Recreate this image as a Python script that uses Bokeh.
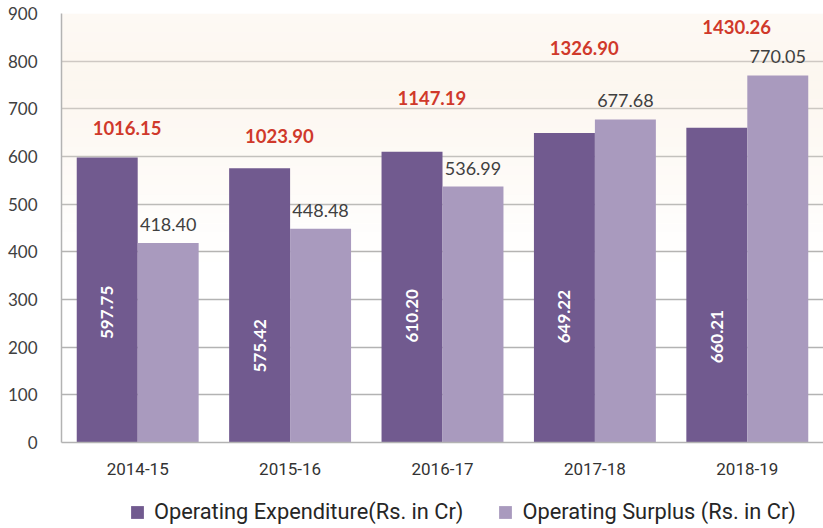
import math
from bokeh.plotting import figure
from bokeh.layouts import column
from bokeh.models import (ColumnDataSource, Range1d, SingleIntervalTicker, Legend,
                          LegendItem, BoxAnnotation)
from bokeh.transform import dodge
from bokeh.core.properties import value
from bokeh.embed import file_html
from bokeh.resources import INLINE

# ---- data ----
years = ["2014-15", "2015-16", "2016-17", "2017-18", "2018-19"]
expenditure = [597.75, 575.42, 610.20, 649.22, 660.21]
surplus = [418.40, 448.48, 536.99, 677.68, 770.05]
totals = [1016.15, 1023.90, 1147.19, 1326.90, 1430.26]
series_names = ["Operating Expenditure(Rs. in Cr)", "Operating Surplus (Rs. in Cr)"]

# label anchor heights (as placed in the original picture)
total_label_y = [659, 644, 722, 827, 871]
inner_label_y = [273, 203, 266, 264, 222]

DARK = "#715a8f"
LIGHT = "#a99abe"
RED = "#d0392b"
GRID = "#b3b3b3"

src = ColumnDataSource(dict(
    year=years, exp=expenditure, sur=surplus,
    exp_txt=["%.2f" % v for v in expenditure],
    sur_txt=["%.2f" % v for v in surplus],
    tot_txt=["%.2f" % v for v in totals],
    tot_y=total_label_y, in_y=inner_label_y,
))

p = figure(x_range=years, y_range=Range1d(0, 900), width=823, height=490,
           output_backend="svg", toolbar_location=None,
           min_border_left=61, min_border_right=0, min_border_top=13,
           min_border_bottom=48)
p.x_range.range_padding = 0
p.outline_line_color = None
p.background_fill_color = "white"
p.border_fill_color = "white"

# soft warm gradient in the upper part of the plot
n = 26
lo, hi = 380, 900
for i in range(n):
    b = lo + (hi - lo) * i / n
    t = lo + (hi - lo) * (i + 1) / n
    m = (b + t) / 2
    if m < 760:
        a = 0.45 * ((m - lo) / (760 - lo)) ** 0.9
    else:
        a = 0.45 - 0.15 * (m - 760) / (hi - 760)
    p.add_layout(BoxAnnotation(bottom=b, top=t, fill_color="#f9ecdc", fill_alpha=a,
                               line_color=None, level="underlay"))

r1 = p.vbar(x=dodge("year", -0.2, range=p.x_range), top="exp", width=0.4,
            source=src, fill_color=DARK, line_color=None)
r2 = p.vbar(x=dodge("year", 0.2, range=p.x_range), top="sur", width=0.4,
            source=src, fill_color=LIGHT, line_color=None)

# surplus labels above light bars
p.text(x=dodge("year", 0.2, range=p.x_range), y="sur", text="sur_txt", source=src,
       text_align="center", text_baseline="bottom", y_offset=-12,
       text_font=value("Lato"), text_font_size="18px", text_color="#404040")

# white rotated labels inside dark bars
p.text(x=dodge("year", -0.2, range=p.x_range), y="in_y", text="exp_txt", source=src,
       angle=math.pi / 2, text_align="center", text_baseline="middle",
       text_font=value("Lato"), text_font_style="bold", text_font_size="17px",
       text_color="white")

# red totals
p.text(x=dodge("year", -0.07, range=p.x_range), y="tot_y", text="tot_txt", source=src,
       text_align="center", text_baseline="middle",
       text_font=value("Lato"), text_font_style="bold", text_font_size="18.5px",
       text_color=RED)

# axes
p.yaxis.ticker = SingleIntervalTicker(interval=100)
p.yaxis.major_tick_line_color = None
p.yaxis.minor_tick_line_color = None
p.yaxis.axis_line_color = GRID
p.yaxis.axis_line_width = 1.5
p.yaxis.major_label_standoff = 18
p.yaxis.major_label_text_font = "Lato"
p.yaxis.major_label_text_font_size = "17px"
p.yaxis.major_label_text_color = "#404040"

p.xaxis.major_tick_line_color = None
p.xaxis.axis_line_color = GRID
p.xaxis.axis_line_width = 1.5
p.xaxis.major_label_standoff = 14
p.xaxis.major_label_text_font = "Roboto"
p.xaxis.major_label_text_font_size = "17px"
p.xaxis.major_label_text_color = "#333333"

p.xgrid.grid_line_color = None
p.ygrid.grid_line_color = GRID
p.ygrid.grid_line_width = 1.5

# ---- legend strip ----
lg = figure(width=823, height=38, x_range=Range1d(0, 1), y_range=Range1d(0, 1),
            output_backend="svg", toolbar_location=None,
            min_border_left=0, min_border_right=0, min_border_top=0, min_border_bottom=0)
lg.axis.visible = False
lg.grid.visible = False
lg.outline_line_color = None
lg.border_fill_color = "white"
lg.background_fill_color = "white"
# legend proxies: same data, lying outside this strip's visible range
d1 = lg.vbar(x="exp", top="exp", width=0.1, source=src, fill_color=DARK, line_color=None)
d2 = lg.vbar(x="sur", top="sur", width=0.1, source=src, fill_color=LIGHT, line_color=None)

legend = Legend(items=[LegendItem(label=series_names[0], renderers=[d1]),
                       LegendItem(label=series_names[1], renderers=[d2])],
                orientation="horizontal", location=(68, 4),
                glyph_width=16, glyph_height=16, label_standoff=9, spacing=34,
                padding=0, margin=0, border_line_color=None,
                background_fill_alpha=0,
                label_text_font="Roboto", label_text_font_size="21.8px",
                label_text_color="#262626")
lg.add_layout(legend, "center")

layout = column(p, lg, spacing=0)
open("out.html", "w").write(file_html(layout, INLINE))
